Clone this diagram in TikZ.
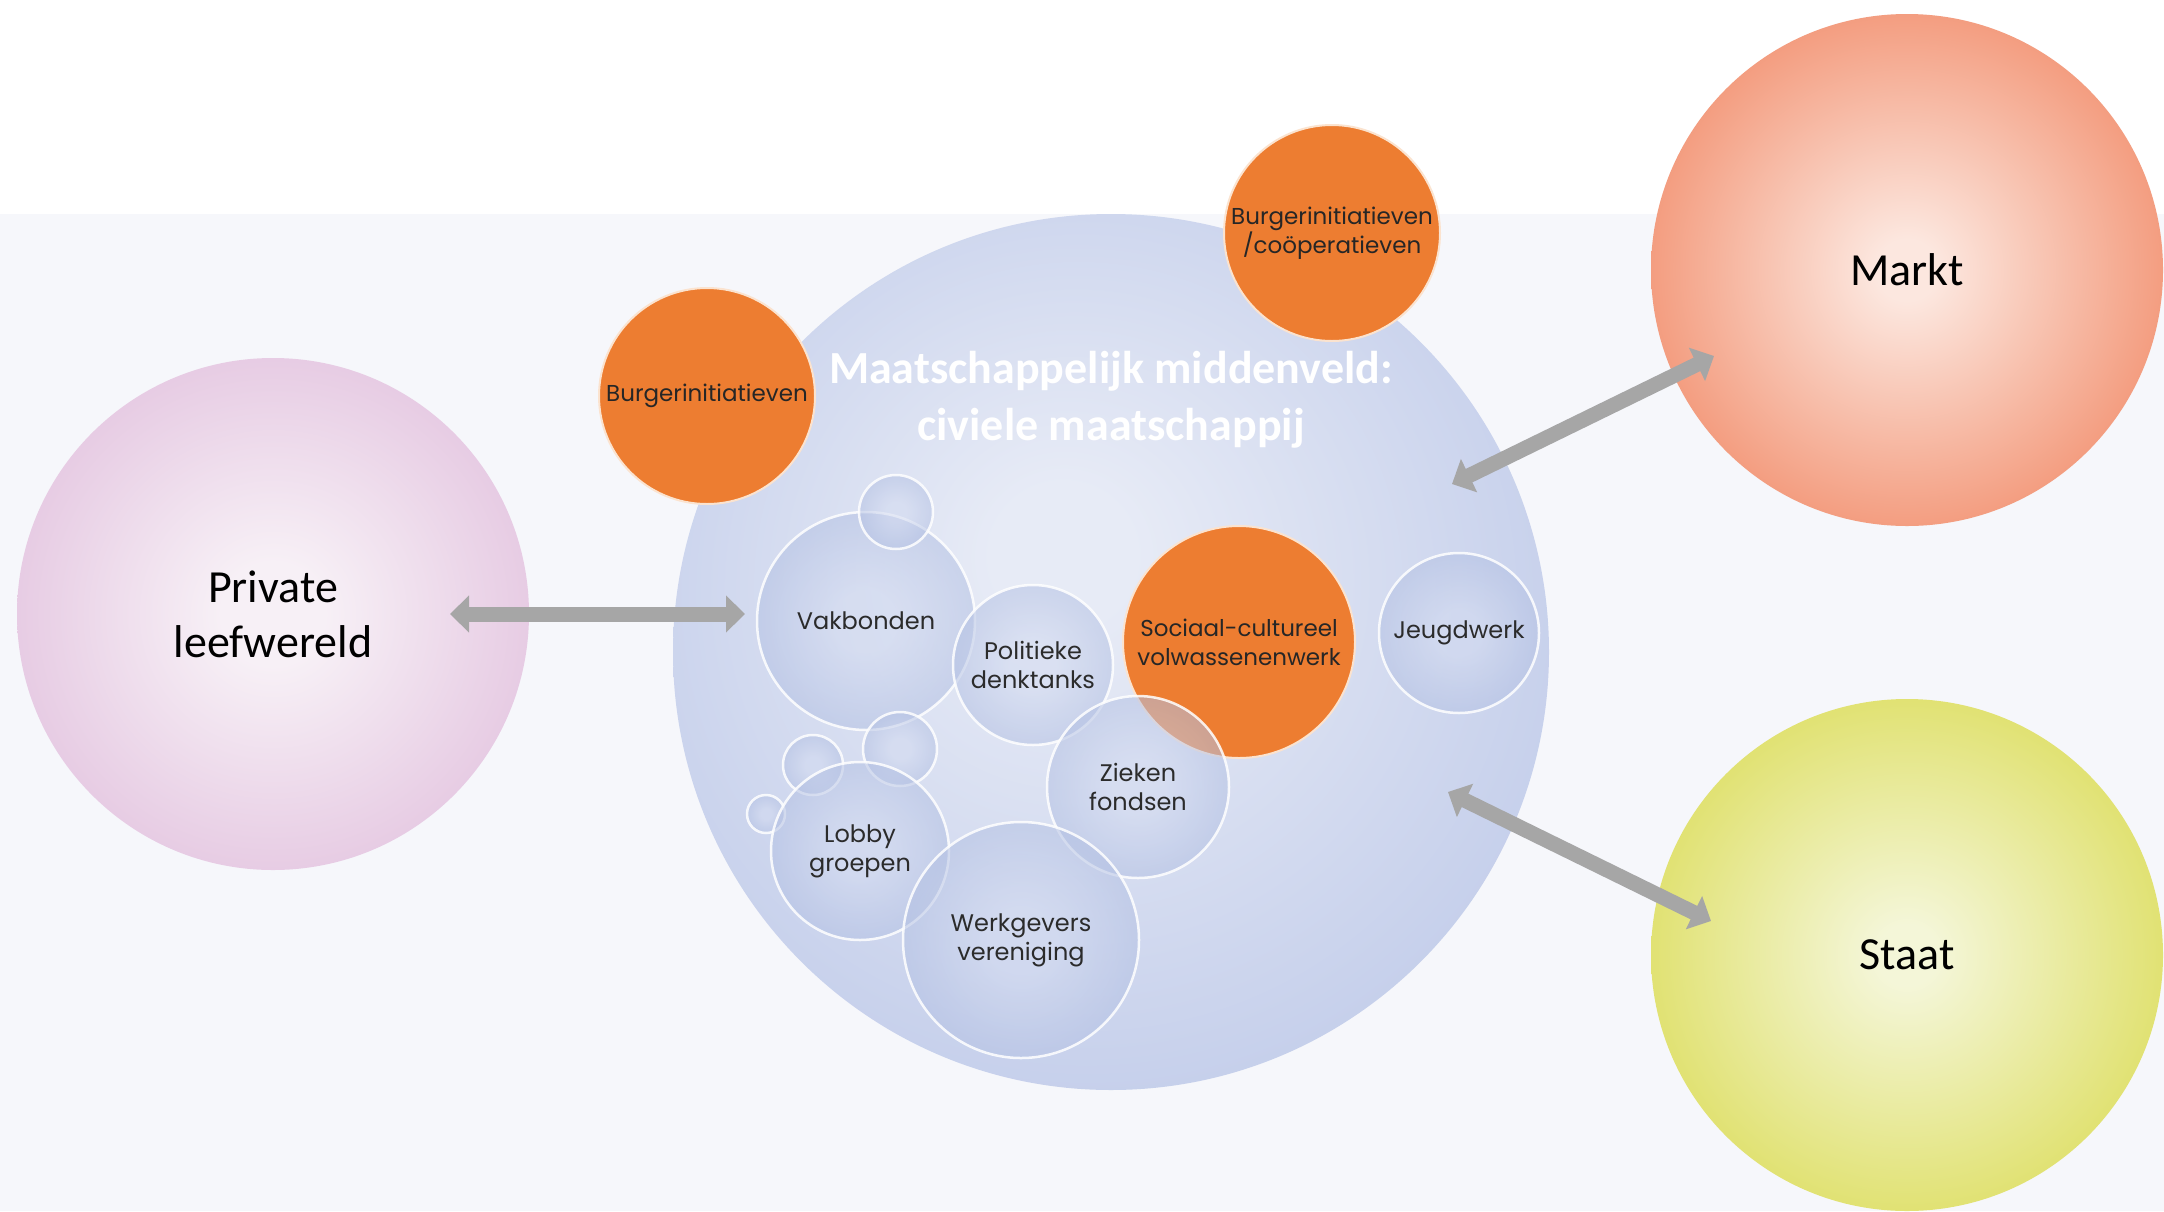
\documentclass[tikz,border=0pt]{standalone}
\usepackage{fontspec}
\setmainfont{Carlito}
\newfontfamily\popfont{Poppins}
\usetikzlibrary{arrows.meta}
\definecolor{bgtop}{HTML}{FFFFFF}
\definecolor{bglow}{HTML}{F6F7FB}
\definecolor{mainin}{HTML}{E7EBF6}
\definecolor{mainout}{HTML}{BFCAE9}
\definecolor{bubin}{HTML}{D2DAF0}
\definecolor{bubout}{HTML}{A3B3DC}
\definecolor{orng}{HTML}{ED7D31}
\definecolor{orngline}{HTML}{FBE3CF}
\definecolor{privin}{HTML}{F7F0F6}
\definecolor{privout}{HTML}{E2C1DE}
\definecolor{marktin}{HTML}{FCE7DF}
\definecolor{marktout}{HTML}{F39A7C}
\definecolor{staatin}{HTML}{F4F6D8}
\definecolor{staatout}{HTML}{DFE06A}
\definecolor{arrgrey}{HTML}{A6A6A6}
\definecolor{labelgrey}{HTML}{2B2B2B}
\pgfdeclareradialshading{mainshade}{\pgfpoint{-3bp}{6bp}}{color(0bp)=(mainin); color(4bp)=(mainin); color(33bp)=(mainout); color(50bp)=(mainout)}
\pgfdeclareradialshading{bubshade}{\pgfpoint{0bp}{0bp}}{color(0bp)=(bubin); color(7bp)=(bubin); color(35bp)=(bubout); color(50bp)=(bubout)}
\pgfdeclareradialshading{privshade}{\pgfpoint{0bp}{0bp}}{color(0bp)=(privin); color(5bp)=(privin); color(31bp)=(privout); color(50bp)=(privout)}
\pgfdeclareradialshading{marktshade}{\pgfpoint{0bp}{0bp}}{color(0bp)=(marktin); color(3bp)=(marktin); color(26bp)=(marktout); color(50bp)=(marktout)}
\pgfdeclareradialshading{staatshade}{\pgfpoint{0bp}{0bp}}{color(0bp)=(staatin); color(3bp)=(staatin); color(27bp)=(staatout); color(50bp)=(staatout)}
\tikzset{
  sphere/.style={circle, inner sep=0pt, minimum size=#1},
  bubble/.style={sphere=#1, shade, shading=bubshade, fill opacity=0.55, draw=white, draw opacity=0.85, line width=2.5pt, text opacity=1, text=labelgrey, align=center, font=\popfont\fontsize{24}{29}\selectfont},
  orangeball/.style={sphere=#1, fill=orng, draw=orngline, line width=2pt, text=black!85, align=center, font=\popfont\fontsize{23}{29}\selectfont},
  bigball/.style={sphere=#1, shade, align=center, text=black, font=\fontsize{46}{55}\selectfont},
  dblarrow/.style={draw=arrgrey, line width=15pt, {Triangle[width=36pt,length=19pt]}-{Triangle[width=36pt,length=19pt]}},
}
\begin{document}
\begin{tikzpicture}[x=1pt,y=-1pt]
\useasboundingbox (0,0) rectangle (2164,1211);
\fill[bgtop] (0,0) rectangle (2164,1211);
\fill[bglow] (0,214) rectangle (2164,1211);

% outer spheres
\node[bigball=512, shading=privshade] (priv) at (273,614) {Private\\leefwereld};
\node[bigball=512, shading=marktshade] (markt) at (1907,270) {Markt};
\node[bigball=512, shading=staatshade] (staat) at (1907,955) {Staat};

% main circle
\node[sphere=876, shade, shading=mainshade] (main) at (1111,652) {};

% orange citizen initiatives
\node[orangeball=216] (burg1) at (707,396) {Burgerinitiatieven};
\node[orangeball=216] (burg2) at (1332,233) {Burgerinitiatieven\\/coöperatieven};

% title
\node[text=white, align=center, font=\bfseries\fontsize{46}{57}\selectfont] (title) at (1111,400) {Maatschappelijk middenveld:\\civiele maatschappij};

% inner bubbles
\node[bubble=218] (vak) at (866,621) {Vakbonden};
\node[bubble=74] (sm1) at (896,512) {};
\node[bubble=160] (pol) at (1033,665) {Politieke\\denktanks};
\node[orangeball=232] (soc) at (1239,642) {Sociaal-cultureel\\volwassenenwerk};
\node[bubble=160] (jeugd) at (1459,633) {Jeugdwerk};
\node[bubble=182] (zieken) at (1138,787) {Zieken\\fondsen};
\node[bubble=74] (sm2) at (900,749) {};
\node[bubble=60] (sm3) at (813,765) {};
\node[bubble=38] (sm4) at (766,814) {};
\node[bubble=178] (lobby) at (860,851) {Lobby\\groepen};
\node[bubble=236] (werk) at (1021,940) {Werkgevers\\vereniging};

% arrow ends
\coordinate (pa1) at (450,614);
\coordinate (pa2) at (745,614);
\coordinate (ma1) at (1452,484);
\coordinate (ma2) at (1714,356);
\coordinate (sa1) at (1448,792);
\coordinate (sa2) at (1711,921);
\draw[dblarrow] (pa1) -- (pa2);
\draw[dblarrow] (ma1) -- (ma2);
\draw[dblarrow] (sa1) -- (sa2);
\end{tikzpicture}
\end{document}
